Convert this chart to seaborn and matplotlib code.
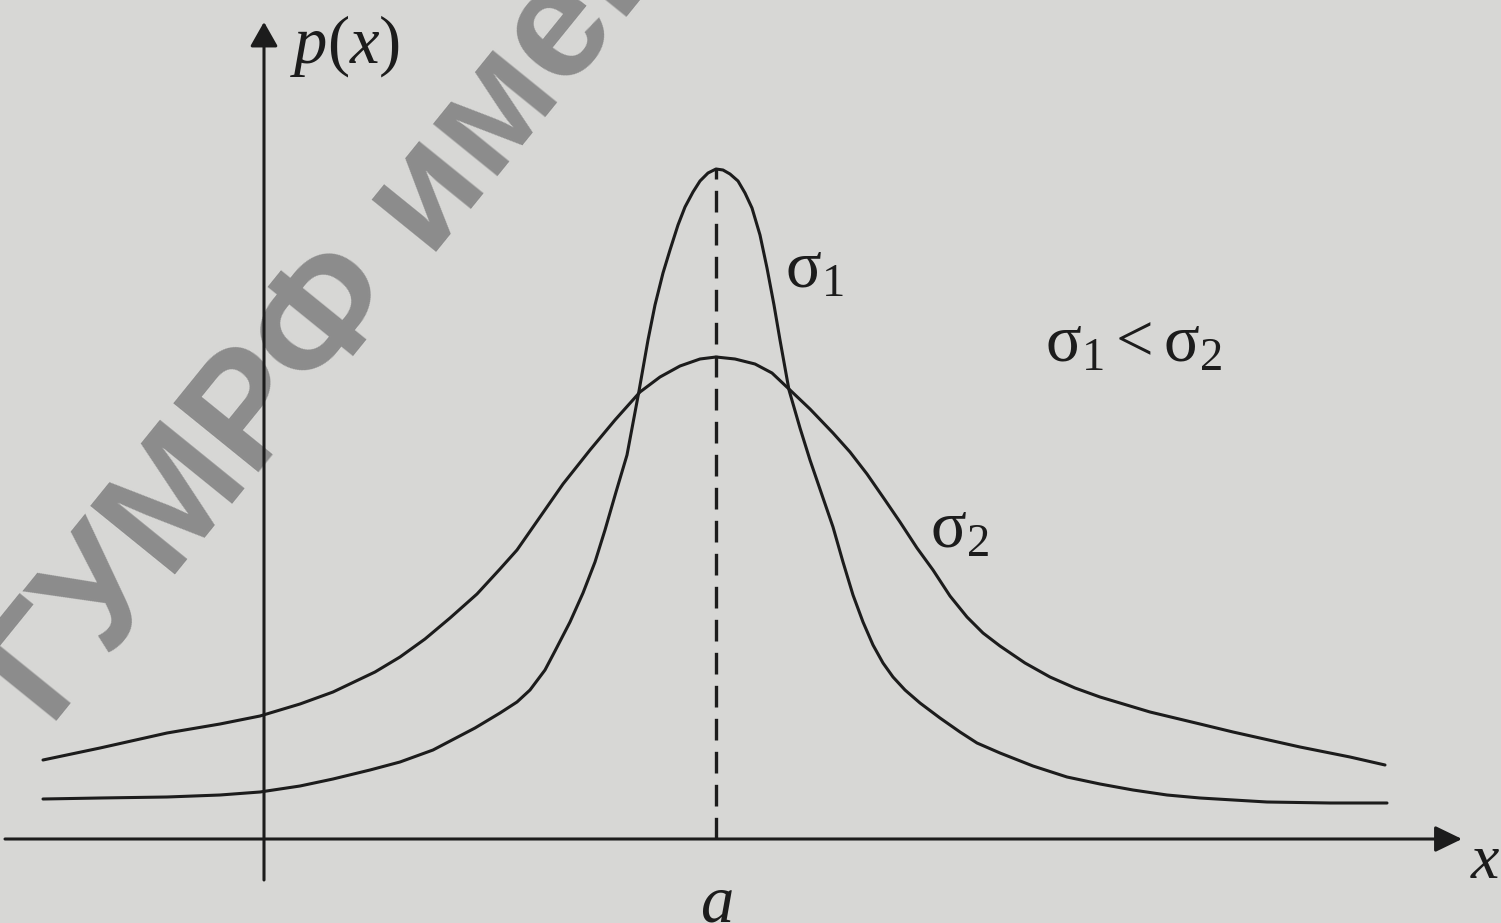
import matplotlib
matplotlib.use("Agg")
import matplotlib.pyplot as plt
import pandas as pd
import seaborn as sns

# Density curves p(x) as (x, p) pairs in arbitrary units (origin at the axes' crossing)
x_narrow = [-221, -164, -97, -44, -4, 36, 69, 106, 136, 169, 211, 236, 253, 266,
            281, 291, 306, 319, 331, 341, 352, 363, 375, 384, 391, 399, 406, 414,
            421, 429, 436, 444, 452, 459, 466, 474, 481, 488, 496, 503, 510, 516,
            525, 536, 546, 558, 569, 579, 589, 599, 609, 619, 629, 641, 656, 676,
            696, 713, 736, 769, 803, 836, 869, 903, 936, 1003, 1066, 1123]
p_narrow = [40, 41, 42, 44, 47, 53, 60, 69, 77, 89, 111, 126, 137, 149,
            169, 188, 217, 246, 277, 309, 347, 384, 448, 499, 534, 566, 589, 614,
            632, 647, 658, 666, 670, 669, 665, 658, 646, 631, 604, 571, 534, 499,
            449, 411, 379, 344, 312, 277, 244, 217, 194, 176, 162, 149, 136, 121,
            107, 96, 86, 73, 62, 55, 49, 44, 41, 37, 36, 36]

x_wide = [-221, -164, -97, -44, -4, 36, 69, 111, 136, 161, 186, 213, 236, 253,
          276, 299, 326, 351, 376, 396, 416, 436, 452, 471, 491, 508, 526, 546,
          569, 586, 603, 621, 636, 653, 669, 686, 703, 719, 736, 761, 786, 811,
          836, 886, 936, 969, 1036, 1086, 1121]
p_wide = [79, 91, 106, 115, 123, 135, 147, 167, 182, 200, 221, 245, 270, 289,
          322, 355, 389, 419, 447, 462, 473, 480, 482, 480, 475, 466, 449, 430,
          406, 387, 365, 339, 317, 291, 269, 243, 222, 206, 193, 176, 162, 151,
          142, 127, 115, 107, 92, 82, 74]

curve_names = ["σ1", "σ2"]
a_value = 452
peak_value = 670

ink = "#1c1c1c"
paper = "#d7d7d5"

sns.set_style("white")
plt.rcParams["mathtext.fontset"] = "custom"
plt.rcParams["mathtext.rm"] = "Liberation Serif"
plt.rcParams["mathtext.it"] = "Liberation Serif:italic"

df = pd.concat([
    pd.DataFrame({"x": x_narrow, "p": p_narrow, "curve": curve_names[0]}),
    pd.DataFrame({"x": x_wide, "p": p_wide, "curve": curve_names[1]}),
])

fig = plt.figure(figsize=(15.01, 9.23), dpi=100, facecolor=paper)
ax = fig.add_axes([0, 0, 1, 1])
ax.set_facecolor(paper)
ax.set_xlim(-264, 1237)
ax.set_ylim(-84, 839)
ax.set_axis_off()

# library watermark behind the drawing
ax.text(-214, 110, "ГУМРФ имени", rotation=51, rotation_mode="anchor",
        ha="left", va="baseline", fontsize=114, fontweight="bold",
        family="Liberation Sans", color="#8c8c8c", zorder=0)

sns.lineplot(data=df, x="x", y="p", hue="curve",
             palette={curve_names[0]: ink, curve_names[1]: ink},
             estimator=None, sort=True, legend=False, linewidth=2.2, ax=ax,
             zorder=3)

# coordinate axes with arrow heads
ax.annotate("", xy=(1198, 0), xytext=(-259, 0),
            arrowprops=dict(arrowstyle="-|>,head_length=1.65,head_width=0.8",
                            mutation_scale=10, color=ink, lw=2.2,
                            shrinkA=0, shrinkB=0), zorder=4)
ax.annotate("", xy=(0, 817), xytext=(0, -41),
            arrowprops=dict(arrowstyle="-|>,head_length=1.5,head_width=0.85",
                            mutation_scale=10, color=ink, lw=2.2,
                            shrinkA=0, shrinkB=0), zorder=4)

# dashed line at the centre a
ax.plot([a_value, a_value], [0, peak_value], color=ink, lw=2.4,
        linestyle=(0, (6.5, 3.4)), zorder=2)

label_kw = dict(fontsize=48, color=ink, va="baseline", ha="left", zorder=5)
ax.text(26, 776, r"$p(x)$", **label_kw)
ax.text(521, 551, r"$\mathrm{\sigma_1}$", **label_kw)
ax.text(666, 291, r"$\mathrm{\sigma_2}$", **label_kw)
ax.text(781, 477, r"$\mathrm{\sigma_1 < \sigma_2}$", **label_kw)
ax.text(a_value, -82, r"$a$", fontsize=48, color=ink, va="baseline",
        ha="center", zorder=5)
ax.text(1206, -39, r"$x$", fontsize=46, color=ink, va="baseline",
        ha="left", zorder=5)

fig.savefig("out.png", dpi=100, facecolor=paper)
